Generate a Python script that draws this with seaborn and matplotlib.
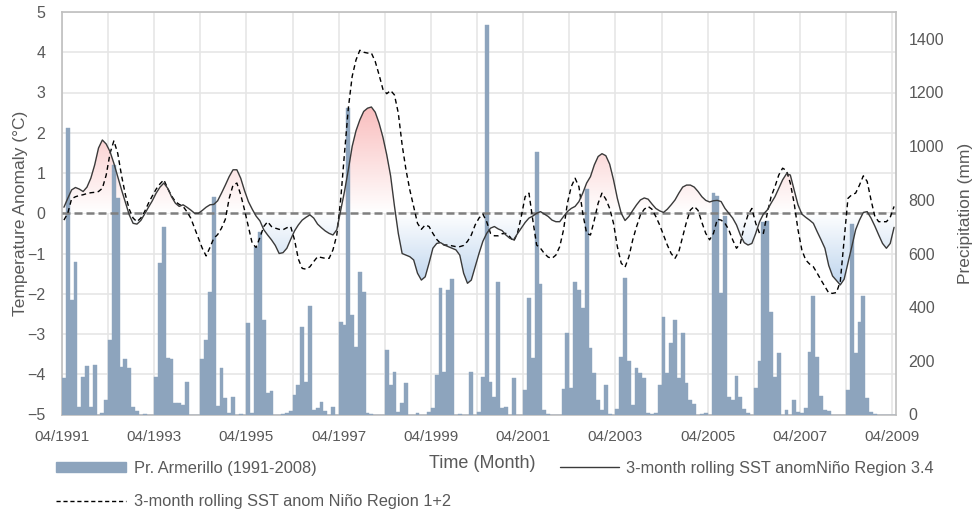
import numpy as np
import pandas as pd
import matplotlib
matplotlib.use("Agg")
import matplotlib.pyplot as plt
import seaborn as sns
from matplotlib.patches import Patch, PathPatch
from matplotlib.lines import Line2D

# ---------------- data (monthly, starting 04/1991) ----------------
start_month = "1991-04-01"

precip_mm = [
    135, 1066, 427, 570, 29, 141, 182, 29, 184, 0, 4, 54,
    278, 930, 806, 178, 206, 175, 29, 14, 0, 3, 0, 0,
    141, 563, 700, 209, 205, 42, 44, 35, 122, 0, 0, 0,
    205, 278, 458, 812, 31, 172, 60, 4, 66, 0, 2, 0,
    340, 4, 625, 681, 352, 79, 89, 0, 0, 2, 4, 14,
    72, 110, 327, 122, 404, 17, 23, 45, 14, 0, 29, 0,
    346, 334, 1141, 371, 253, 532, 458, 4, 2, 0, 0, 0,
    240, 110, 160, 10, 42, 116, 0, 0, 4, 0, 0, 10,
    23, 147, 470, 160, 464, 504, 0, 2, 0, 0, 160, 0,
    10, 141, 1452, 122, 66, 495, 23, 27, 0, 137, 0, 0,
    91, 433, 212, 980, 485, 17, 2, 0, 0, 0, 94, 302,
    97, 495, 464, 396, 839, 247, 153, 54, 17, 110, 2, 0,
    19, 215, 507, 199, 35, 175, 153, 135, 4, 2, 7, 110,
    365, 153, 265, 354, 137, 302, 119, 54, 38, 0, 2, 7,
    0, 824, 814, 452, 740, 66, 54, 143, 66, 19, 4, 0,
    97, 199, 719, 721, 383, 141, 228, 0, 17, 0, 54, 10,
    7, 23, 234, 443, 215, 69, 17, 14, 0, 0, 0, 0,
    91, 710, 228, 346, 441, 60, 10, 2, 0, 0, 0, 0,
    0,
]

nino34 = [
    0.15, 0.37, 0.58, 0.64, 0.60, 0.54, 0.65, 0.87, 1.20, 1.62, 1.82, 1.72,
    1.53, 1.24, 0.91, 0.58, 0.27, -0.04, -0.25, -0.27, -0.18, -0.02, 0.15, 0.31,
    0.50, 0.65, 0.75, 0.62, 0.41, 0.25, 0.17, 0.21, 0.15, 0.08, 0.00, 0.00,
    0.07, 0.15, 0.21, 0.22, 0.31, 0.50, 0.70, 0.91, 1.08, 1.08, 0.87, 0.56,
    0.29, 0.10, -0.07, -0.19, -0.41, -0.54, -0.66, -0.80, -1.00, -0.98, -0.87, -0.65,
    -0.44, -0.29, -0.17, -0.10, -0.04, -0.12, -0.27, -0.36, -0.44, -0.50, -0.54, -0.41,
    0.07, 0.54, 1.08, 1.66, 2.05, 2.32, 2.53, 2.61, 2.64, 2.51, 2.24, 1.89,
    1.45, 0.93, 0.18, -0.50, -1.00, -1.04, -1.08, -1.16, -1.49, -1.66, -1.58, -1.24,
    -0.87, -0.75, -0.73, -0.79, -0.83, -0.87, -0.91, -1.04, -1.49, -1.74, -1.66, -1.33,
    -1.00, -0.70, -0.50, -0.37, -0.33, -0.39, -0.43, -0.54, -0.62, -0.66, -0.51, -0.37,
    -0.23, -0.12, -0.07, 0.00, 0.04, -0.02, -0.08, -0.17, -0.21, -0.21, -0.08, 0.04,
    0.12, 0.17, 0.29, 0.50, 0.75, 0.91, 1.20, 1.41, 1.48, 1.43, 1.22, 0.83,
    0.37, 0.00, -0.18, -0.08, 0.07, 0.21, 0.33, 0.38, 0.35, 0.23, 0.12, 0.06,
    0.02, 0.10, 0.21, 0.33, 0.50, 0.65, 0.70, 0.70, 0.65, 0.54, 0.41, 0.32,
    0.28, 0.31, 0.32, 0.29, 0.12, 0.00, -0.12, -0.29, -0.54, -0.73, -0.79, -0.75,
    -0.50, -0.21, -0.02, 0.08, 0.25, 0.41, 0.62, 0.83, 0.98, 0.95, 0.58, 0.21,
    -0.02, -0.10, -0.17, -0.25, -0.46, -0.66, -0.87, -1.30, -1.56, -1.67, -1.78, -1.64,
    -1.24, -0.83, -0.41, -0.17, 0.02, 0.04, -0.12, -0.32, -0.54, -0.75, -0.87, -0.75,
    -0.35,
]

nino12 = [
    -0.17, 0.00, 0.36, 0.41, 0.44, 0.46, 0.49, 0.51, 0.52, 0.54, 0.62, 0.95,
    1.49, 1.80, 1.49, 0.93, 0.46, 0.10, -0.12, -0.21, -0.12, 0.04, 0.25, 0.43,
    0.60, 0.73, 0.83, 0.62, 0.43, 0.29, 0.22, 0.17, 0.04, -0.12, -0.37, -0.62,
    -0.87, -1.06, -0.85, -0.62, -0.53, -0.37, -0.15, 0.37, 0.70, 0.75, 0.46, 0.08,
    -0.33, -0.75, -0.85, -0.60, -0.33, -0.21, -0.33, -0.37, -0.40, -0.41, -0.36, -0.33,
    -0.66, -1.14, -1.37, -1.39, -1.33, -1.20, -1.08, -1.10, -1.12, -1.12, -0.91, -0.54,
    0.33, 1.49, 2.61, 3.40, 3.81, 4.05, 4.00, 3.98, 3.98, 3.77, 3.44, 3.08,
    2.97, 3.05, 2.94, 2.49, 1.70, 1.08, 0.58, 0.17, -0.25, -0.40, -0.29, -0.33,
    -0.50, -0.65, -0.75, -0.79, -0.79, -0.81, -0.83, -0.83, -0.80, -0.70, -0.54, -0.29,
    -0.12, -0.02, -0.21, -0.50, -0.56, -0.56, -0.51, -0.50, -0.58, -0.70, -0.50, -0.08,
    0.41, 0.50, -0.17, -0.79, -0.87, -1.00, -1.09, -1.12, -1.04, -0.83, -0.41, 0.25,
    0.66, 0.87, 0.66, 0.00, -0.50, -0.54, -0.17, 0.25, 0.50, 0.35, 0.12, -0.25,
    -0.83, -1.24, -1.34, -1.08, -0.66, -0.33, -0.04, 0.10, 0.17, 0.10, -0.08, -0.29,
    -0.54, -0.79, -1.00, -1.12, -0.95, -0.58, -0.21, 0.08, 0.17, 0.07, -0.23, -0.50,
    -0.66, -0.50, -0.15, -0.17, -0.25, -0.41, -0.66, -0.87, -0.75, -0.33, -0.04, 0.12,
    -0.25, -0.50, -0.50, 0.00, 0.41, 0.66, 0.95, 1.12, 1.06, 0.75, 0.25, -0.41,
    -0.91, -1.16, -1.26, -1.33, -1.49, -1.66, -1.82, -1.98, -1.99, -1.97, -1.70, -0.66,
    0.37, 0.46, 0.50, 0.70, 0.93, 0.79, 0.33, -0.08, -0.21, -0.21, -0.21, -0.10,
    0.17,
]

bar_label = "Pr. Armerillo (1991-2008)"
solid_label = "3-month rolling SST anomNiño Region 3.4"
dash_label = "3-month rolling SST anom Niño Region 1+2"

# ---------------- build table ----------------
n = len(precip_mm)
dates = pd.date_range(start_month, periods=n, freq="MS")
df = pd.DataFrame({
    "pos": np.arange(n) + 0.5,
    "precip": precip_mm,
    "nino34": nino34,
    "nino12": nino12,
})

sns.set_theme(style="white")
plt.rcParams["font.family"] = ["Liberation Sans", "DejaVu Sans"]
NARROW = ["Liberation Sans Narrow", "Liberation Sans", "DejaVu Sans"]
TXT = "#595959"
BAR = "#8DA4BD"

W, H = 974, 514
fig = plt.figure(figsize=(W / 100, H / 100), dpi=100)
rect = [62 / W, 1 - 414.5 / H, (896 - 62) / W, (414.5 - 12) / H]

ax = fig.add_axes(rect)                  # temperature axis (grid + fill)
ax2 = ax.twinx()                          # precipitation axis (bars)
ax3 = fig.add_axes(rect, sharex=ax, sharey=ax)  # lines on top
ax3.patch.set_visible(False)

# ---- gradient fill between Niño 3.4 and zero ----
yy = np.linspace(-5, 5, 1001)
red = np.array([249, 188, 188]) / 255
blue = np.array([190, 213, 238]) / 255
tp = np.clip(yy / 2.7, 0, 1)[:, None]
tn = np.clip(-yy / 1.8, 0, 1)[:, None]
rgb = np.where(yy[:, None] >= 0, 1 - tp * (1 - red), 1 - tn * (1 - blue))
img = np.repeat(rgb[:, None, :], 2, axis=1)
im = ax.imshow(img, extent=[0, n, -5, 5], origin="lower", aspect="auto",
               interpolation="bilinear", zorder=1)
poly = ax.fill_between(df["pos"], df["nino34"], 0, color="none", lw=0)
clip = PathPatch(poly.get_paths()[0], transform=ax.transData,
                 facecolor="none", edgecolor="none")
ax.add_patch(clip)
im.set_clip_path(clip)

# ---- bars ----
sns.barplot(data=df, x="pos", y="precip", ax=ax2, native_scale=True,
            width=1.0, color=BAR, saturation=1, errorbar=None,
            edgecolor=BAR, linewidth=0.3)

# ---- lines ----
ax3.axhline(0, color="#7f7f7f", lw=1.8, dashes=(3.2, 1.6), zorder=2)
sns.lineplot(data=df, x="pos", y="nino12", ax=ax3, color="black", lw=1.0,
             dashes=False, linestyle=(0, (3.5, 2.5)), zorder=3)
sns.lineplot(data=df, x="pos", y="nino34", ax=ax3, color="#3a3a3a", lw=1.0,
             zorder=4)
ax3.axis("off")

# ---- axes formatting ----
ax.set_xlim(0, n)
ax.set_ylim(-5, 5)
ax2.set_ylim(0, 1500)
ax.set_yticks(np.arange(-5, 6, 1))
ax2.set_yticks(np.arange(0, 1401, 200))

xt = np.arange(0, n, 12)
xl = [dates[i].strftime("%m/%Y") if (i // 12) % 2 == 0 else "" for i in xt]
ax.set_xticks(xt)
ax.set_xticklabels(xl)

ax.grid(True, color="#e6e6e6", lw=1.2)
ax.set_axisbelow(True)
ax2.grid(False)

for s in ax.spines.values():
    s.set_color("#bfbfbf")
    s.set_linewidth(1.2)
for s in ax2.spines.values():
    s.set_visible(False)

ax.tick_params(axis="y", length=0, pad=12, labelsize=11.5, labelcolor=TXT)
ax.tick_params(axis="x", length=0, pad=11, labelsize=11, labelcolor=TXT)
ax2.tick_params(axis="y", length=0, pad=9, labelsize=11.5, labelcolor=TXT)
for lb in ax.get_xticklabels():
    lb.set_fontfamily(NARROW)

ax.set_xlabel("")
ax.set_ylabel("Temperature Anomaly (°C)", fontsize=12.5, color=TXT, labelpad=-1)
ax2.set_xlabel("")
ax2.set_ylabel("Precipitation (mm)", fontsize=12.5, color=TXT, labelpad=10)

fig.text(482 / W, 1 - 463 / H, "Time (Month)", ha="center", va="center",
         fontsize=13, color=TXT, fontfamily=NARROW)

# ---- legends ----
leg_prop = {"family": NARROW, "size": 11.8}
h_bar = Patch(facecolor=BAR, edgecolor=BAR)
h_dash = Line2D([], [], color="black", lw=1.0, dashes=(3, 2))
h_solid = Line2D([], [], color="#3a3a3a", lw=1.0)
fig.legend([h_bar, h_dash], [bar_label, dash_label], loc="upper left",
           bbox_to_anchor=(56 / W, 1 - 461 / H), frameon=False, prop=leg_prop,
           handlelength=4.3, handleheight=0.55, labelspacing=1.1,
           handletextpad=0.45, borderpad=0, borderaxespad=0, labelcolor=TXT)
fig.legend([h_solid], [solid_label], loc="upper left",
           bbox_to_anchor=(560 / W, 1 - 461 / H), frameon=False, prop=leg_prop,
           handlelength=3.6, handletextpad=0.45, borderpad=0, borderaxespad=0,
           labelcolor=TXT)

fig.savefig("out.png", dpi=100)
